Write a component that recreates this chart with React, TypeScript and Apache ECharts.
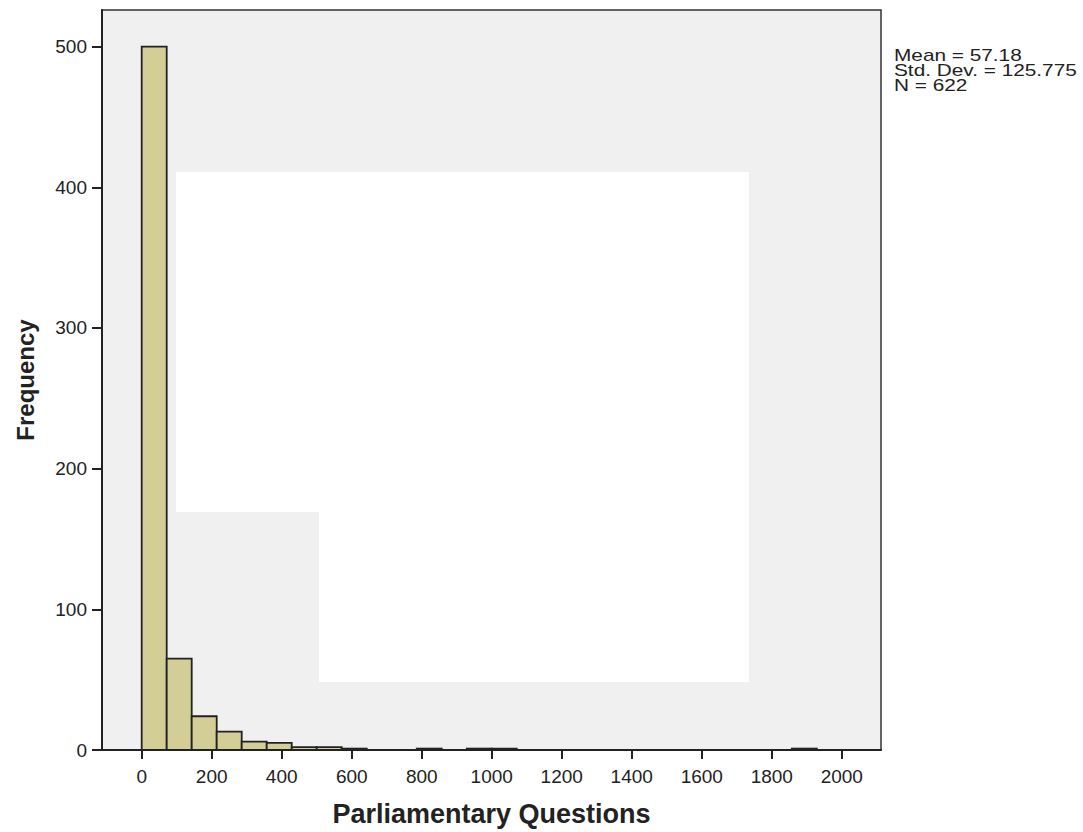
import React, { useEffect, useRef } from "react";
import * as echarts from "echarts";

// Histogram of Parliamentary Questions (SPSS style)
const binWidth = 71.43;
const frequencies = [500, 65, 24, 13, 6, 5, 2, 2, 1, 0, 0, 1, 0, 1, 1, 0, 0, 0, 0, 0, 0, 0, 0, 0, 0, 0, 1];
const xTicks = [0, 200, 400, 600, 800, 1000, 1200, 1400, 1600, 1800, 2000];
const yTicks = [0, 100, 200, 300, 400, 500];
const statLines = ["Mean = 57.18", "Std. Dev. = 125.775", "N = 622"];
const xTitle = "Parliamentary Questions";
const yTitle = "Frequency";

const FONT = "'Liberation Sans', Arial, sans-serif";

export default function App() {
  const ref = useRef<HTMLDivElement>(null);
  useEffect(() => {
    document.body.style.margin = "0";
    if (!ref.current) return;
    const chart = echarts.init(ref.current, null, { renderer: "svg" });
    const data = frequencies.map((f, i) => [i * binWidth, (i + 1) * binWidth, f]);
    chart.setOption({
      animation: false,
      backgroundColor: "#ffffff",
      textStyle: { fontFamily: FONT },
      grid: {
        left: 102,
        top: 10,
        right: 202,
        bottom: 82,
        show: true,
        backgroundColor: "#f0f0f0",
        borderColor: "#333333",
        borderWidth: 1.5,
      },
      xAxis: {
        type: "value",
        min: -113.4,
        max: 2112,
        splitLine: { show: false },
        axisLine: { show: true, onZero: false, lineStyle: { color: "#222222", width: 2 } },
        axisTick: { show: true, customValues: xTicks, length: 9, lineStyle: { color: "#222222", width: 2 } },
        axisLabel: {
          customValues: xTicks,
          color: "#222222",
          fontSize: 19,
          margin: 17,
          fontFamily: FONT,
          formatter: (v: number) => String(v),
        },
        name: xTitle,
        nameLocation: "middle",
        nameGap: 50,
        nameTextStyle: { fontSize: 27, fontWeight: "bold", color: "#222222", fontFamily: FONT },
      },
      yAxis: {
        type: "value",
        min: 0,
        max: 526,
        splitLine: { show: false },
        axisLine: { show: true, onZero: false, lineStyle: { color: "#222222", width: 2 } },
        axisTick: { show: true, customValues: yTicks, length: 10, lineStyle: { color: "#222222", width: 2 } },
        axisLabel: {
          customValues: yTicks,
          color: "#222222",
          fontSize: 19,
          margin: 15,
          fontFamily: FONT,
          formatter: (v: number) => String(v),
        },
        name: yTitle,
        nameLocation: "middle",
        nameRotate: 90,
        nameGap: 65,
        nameTextStyle: { fontSize: 24, fontWeight: "bold", color: "#222222", fontFamily: FONT },
      },
      graphic: [
        {
          type: "polygon",
          z: 1,
          silent: true,
          shape: {
            points: [
              [176, 172],
              [749, 172],
              [749, 682],
              [319, 682],
              [319, 512],
              [176, 512],
            ],
          },
          style: { fill: "#ffffff" },
        },
        ...statLines.map((t, i) => ({
          type: "text",
          x: 894,
          y: 47 + i * 15,
          scaleX: 1.3,
          style: {
            text: t,
            fontSize: 16,
            fontFamily: FONT,
            fill: "#222222",
          },
        })),
      ],
      series: [
        {
          type: "custom",
          z: 5,
          data,
          encode: { x: [0, 1], y: 2 },
          renderItem: (params: any, api: any) => {
            const x0 = api.value(0);
            const x1 = api.value(1);
            const y = api.value(2);
            if (!y) return null;
            const p0 = api.coord([x0, y]);
            const p1 = api.coord([x1, 0]);
            return {
              type: "rect",
              shape: { x: p0[0], y: p0[1], width: p1[0] - p0[0], height: p1[1] - p0[1] },
              style: { fill: "#d3ce96", stroke: "#222222", lineWidth: 1.8 },
            };
          },
        },
      ],
    });
    return () => chart.dispose();
  }, []);
  return <div ref={ref} style={{ width: 1083, height: 832 }} />;
}
